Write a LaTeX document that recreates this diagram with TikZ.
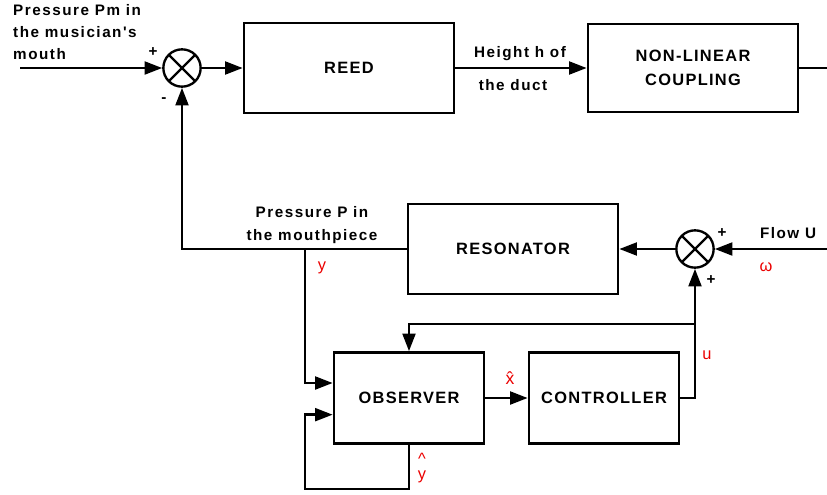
\documentclass[tikz,border=0pt]{standalone}
\usepackage{fontspec}
\setmainfont{Liberation Sans}
\newfontfamily\lblfont[LetterSpace=10]{Liberation Sans}
\newfontfamily\boxfont[LetterSpace=8]{Liberation Sans}
\usetikzlibrary{arrows.meta,positioning}
\definecolor{sigred}{RGB}{235,0,0}

\begin{document}
\begin{tikzpicture}[x=0.03cm, y=-0.03cm, line width=2.1pt,
      blk/.style={rectangle, draw, line width=2.3pt, minimum width=6.3cm, minimum height=2.7cm,
                  align=center, font=\boxfont\bfseries\fontsize{14}{20}\selectfont},
      smallblk/.style={blk, minimum width=4.5cm, minimum height=2.73cm},
      sumj/.style={circle, draw, line width=2pt, minimum size=1.12cm, inner sep=0pt,
                   path picture={\draw[line width=2pt]
                     (path picture bounding box.north west) -- (path picture bounding box.south east)
                     (path picture bounding box.north east) -- (path picture bounding box.south west);}},
      lbl/.style={font=\lblfont\bfseries\fontsize{13}{19}\selectfont, inner sep=0pt, align=center},
      sgn/.style={font=\bfseries\fontsize{13}{15}\selectfont, inner sep=0pt},
      sig/.style={text=sigred, font=\fontsize{14}{14}\selectfont, inner sep=0pt, align=center},
      arr/.style={-{Triangle[length=15pt,width=11pt]}}]
    \useasboundingbox (0,0) rectangle (827,494);

    % top chain
    \coordinate (pmin) at (20,68);
    \node[sumj] (sum1) at (182,68) {};
    \node[blk] (reed) at (349,68) {REED};
    \node[blk, minimum height=2.64cm] (nlc) at (693,68) {NON-LINEAR\\COUPLING};
    \coordinate (nlcout) at (827,68);

    \draw[arr] (pmin) -- (sum1);
    \draw[arr] (sum1) -- (reed);
    \draw[arr] (reed) -- (nlc);
    \draw (nlc) -- (nlcout);

    \node[lbl, align=left, anchor=west] (pmlbl) at (12,32) {Pressure Pm in\\the musician's\\mouth};
    \node[sgn] (plus1) at (153,52) {+};
    \node[sgn] (minus1) at (164,100) {-};
    \node[lbl] (hlbl1) at (520,54) {Height h of};
    \node[lbl] (hlbl2) at (513,85) {the duct};

    % resonator and second junction
    \node[blk] (reso) at (513,249) {RESONATOR};
    \node[sumj] (sum2) at (695,249) {};
    \coordinate (flowin) at (827,249);

    \draw[arr] (flowin) -- (sum2);
    \draw[arr] (sum2) -- (reso);
    \draw[arr] (reso.west) -| (sum1.south);

    \node[lbl] (pplbl) at (312,225) {Pressure P in\\the mouthpiece};
    \node[lbl] (flowlbl) at (788,233) {Flow U};
    \node[sgn] (plus2) at (722,233) {+};
    \node[sgn] (plus3) at (711,280) {+};
    \node[sig] (wlbl) at (766,267) {ω};
    \node[sig] (ylbl) at (322,268) {y};

    % observer / controller loop
    \node[smallblk] (obs) at (409,398) {OBSERVER};
    \node[smallblk] (ctrl) at (604,398) {CONTROLLER};
    \coordinate (ytap) at (305,249);
    \coordinate (utap) at (695,324);
    \coordinate (loopB) at (305,489);

    \draw[arr] (ytap) |- ([yshift=0.45cm]obs.west);
    \draw[arr] (obs.south) |- (loopB) |- ([yshift=-0.5cm]obs.west);
    \draw[arr] (obs) -- (ctrl);
    \draw[arr] (ctrl.east) -| (sum2.south);
    \draw[arr] (utap) -| (obs.north);

    \node[sig, font=\fontsize{15}{15}\selectfont] (xhat) at (510,378) {\^{x}};
    \node[sig] (uhat) at (707,355) {u};
    \node[sig, font=\fontsize{14}{13}\selectfont] (yhat) at (422,468) {\^{}\\y};
  \end{tikzpicture}
\end{document}
